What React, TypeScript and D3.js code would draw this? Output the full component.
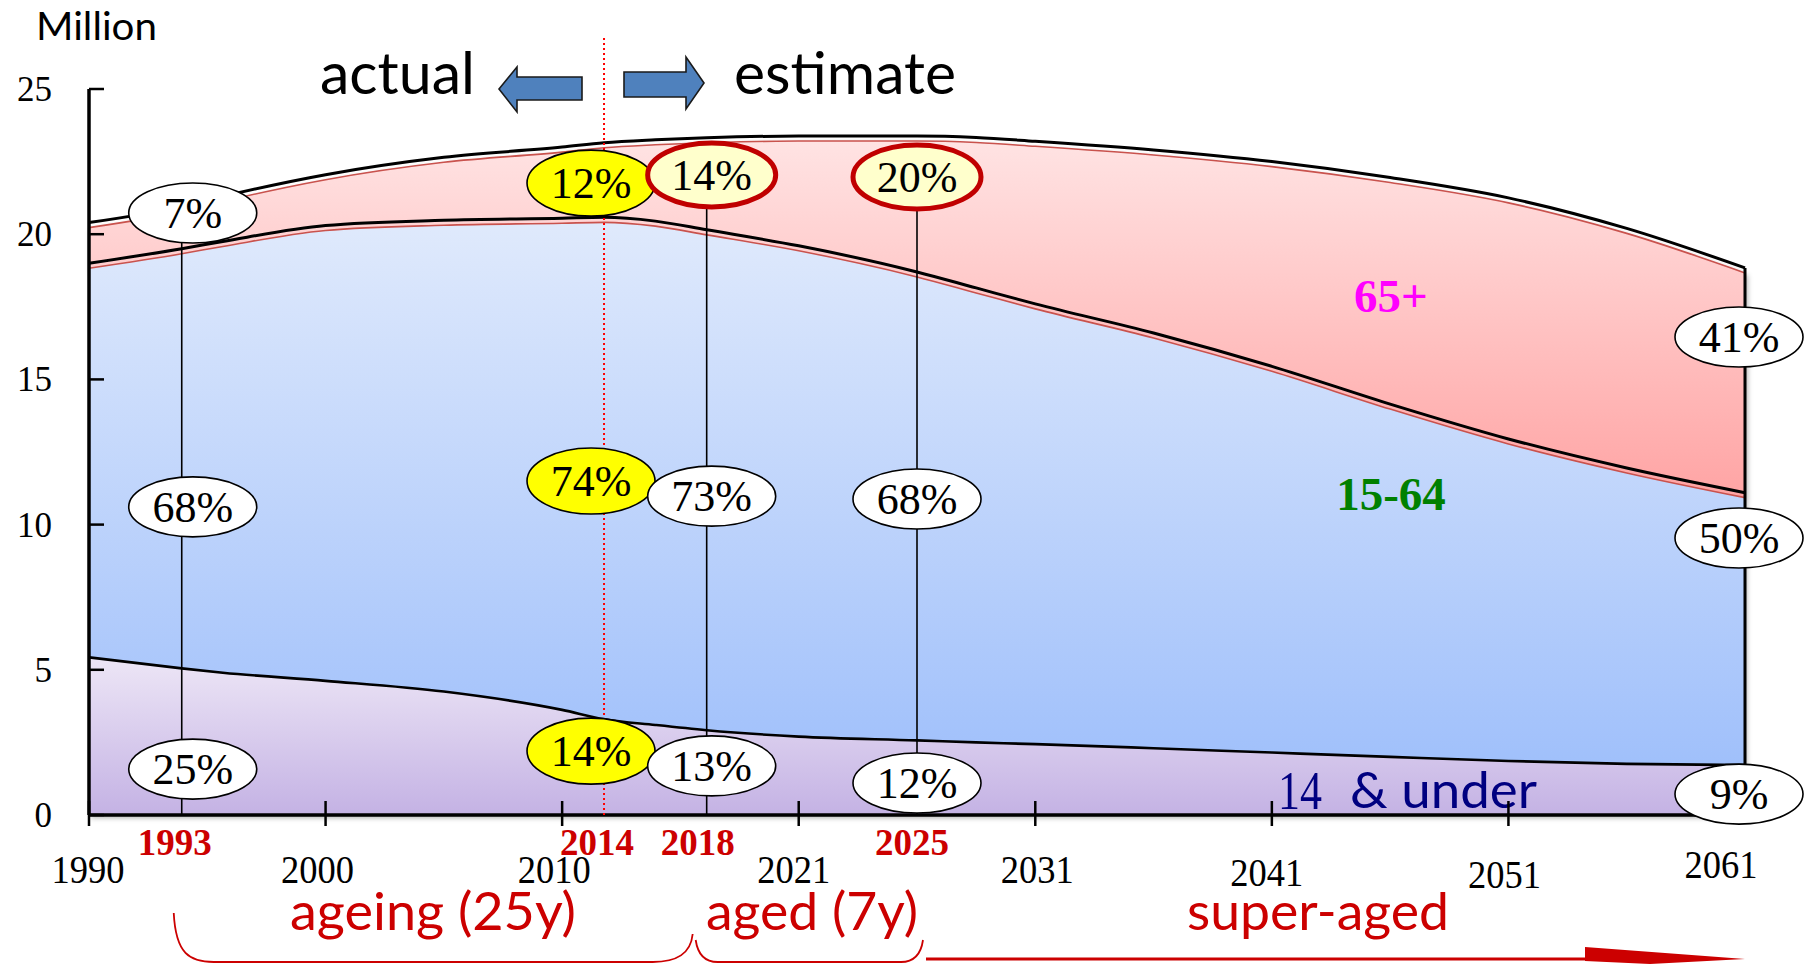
import React from "react";
import * as d3 from "d3";

// ---------------- data ----------------
const YEARS = [1990, 1993, 1995, 2000, 2005, 2010, 2014, 2016, 2018, 2021, 2025, 2028, 2031, 2036, 2041, 2046, 2051, 2056, 2061];
const AGE_0_14 = [5.43, 5.05, 4.9, 4.62, 4.25, 3.62, 3.3, 3.1, 2.92, 2.7, 2.57, 2.5, 2.44, 2.3, 2.15, 2.0, 1.86, 1.76, 1.72];
const AGE_15_64 = [13.57, 14.45, 14.85, 15.68, 16.23, 16.93, 17.28, 17.35, 17.23, 16.9, 16.13, 15.65, 15.16, 14.3, 13.3, 12.15, 11.09, 10.19, 9.38];
const AGE_65_PLUS = [1.4, 1.45, 1.55, 1.75, 2.17, 2.45, 2.57, 2.8, 3.17, 3.78, 4.68, 5.18, 5.6, 6.3, 7.05, 7.8, 8.3, 8.25, 7.74];

const Y_TICKS = [0, 5, 10, 15, 20, 25];
const X_TICK_YEARS = [1990, 2000, 2010, 2021, 2031, 2041, 2051, 2061];
const MILESTONE_YEARS = [1993, 2014, 2018, 2025];

const LABEL_YEARS = [1993, 2014, 2018, 2025, 2061];
const PCT_65_PLUS = ["7%", "12%", "14%", "20%", "41%"];
const PCT_15_64 = ["68%", "74%", "73%", "68%", "50%"];
const PCT_0_14 = ["25%", "14%", "13%", "12%", "9%"];

const ERA_LABELS = ["ageing (25y)", "aged (7y)", "super-aged"];
const SERIES_LABELS = ["65+", "15-64", "14", "& under"];
const Y_UNIT = "Million";
const TOP_LABELS = ["actual", "estimate"];

// ---------------- layout ----------------
const W = 1818;
const H = 964;
const PLOT = { left: 89, right: 1745, top: 89, bottom: 815 };
const KNOT_YEARS = [1990, 1993, 2000, 2010, 2014, 2018, 2021, 2025, 2031, 2041, 2051, 2061];
const KNOT_FRAC = [0, 0.056, 1 / 7, 2 / 7, 0.311, 0.373, 3 / 7, 0.5, 4 / 7, 5 / 7, 6 / 7, 1];
// label placement (value units / px offsets) per LABEL_YEARS entry
const LABEL_Y_TOP = [20.73, 21.76, 22.04, 21.97, 16.46];
const LABEL_Y_MID = [10.61, 11.5, 10.98, 10.88, 9.54];
const LABEL_Y_LOW = [1.58, 2.2, 1.69, 1.1, 0.72];
const LABEL_DX = [11, -13, 5, 0, -6];
const LABEL_KIND = ["plain", "yellow", "plain", "plain", "plain"];
const TOP_HIGHLIGHT = [false, false, true, true, false];
const XTICK_LABEL_DX = [-1, -8, -8, -5, 2, -5, -4, -24];
const XTICK_LABEL_Y = [883, 883, 883, 883, 883, 886, 888, 878];
const MILESTONE_DX = [-7, -7, -9, -5];

const SERIF = "'Liberation Serif', 'Times New Roman', serif";
const SANS = "Lato, 'Open Sans', 'Noto Sans', sans-serif";
const RED = "#cc0000";

export default function App() {
  const x = d3
    .scaleLinear()
    .domain(KNOT_YEARS)
    .range(KNOT_FRAC.map((f) => PLOT.left + f * (PLOT.right - PLOT.left)));
  const y = d3.scaleLinear().domain([0, 25]).range([PLOT.bottom, PLOT.top]);

  const rows = YEARS.map((year, i) => ({ year, a: AGE_0_14[i], b: AGE_15_64[i], c: AGE_65_PLUS[i] }));
  const stacked = d3.stack<any>().keys(["a", "b", "c"])(rows);

  const area = d3
    .area<any>()
    .x((d) => x(d.data.year))
    .y0((d) => y(d[0]))
    .y1((d) => y(d[1]))
    .curve(d3.curveMonotoneX);
  const line = d3
    .line<any>()
    .x((d) => x(d.data.year))
    .y((d) => y(d[1]))
    .curve(d3.curveMonotoneX);

  const lastTotal = stacked[2][stacked[2].length - 1][1];

  const ellipse = (cx: number, cy: number, text: string, kind: string, key: string) => {
    let fill = "#ffffff";
    let stroke = "#000";
    let sw = 1.6;
    let ry = 30;
    if (kind === "yellow") {
      fill = "#ffff00";
      ry = 33;
    } else if (kind === "highlight") {
      fill = "#ffffcc";
      stroke = "#c00000";
      sw = 5;
      ry = 32;
    }
    return (
      <g key={key}>
        <ellipse cx={cx} cy={cy} rx={64} ry={ry} fill={fill} stroke={stroke} strokeWidth={sw} />
        <text x={cx} y={cy + 15} textAnchor="middle" fontFamily={SERIF} fontSize={44} fill="#000">
          {text}
        </text>
      </g>
    );
  };

  const xs1993 = x(MILESTONE_YEARS[0]);
  const xs2018 = x(MILESTONE_YEARS[2]);
  const xs2025 = x(MILESTONE_YEARS[3]);
  const xEnd = x(X_TICK_YEARS[X_TICK_YEARS.length - 1]);

  const brace = (x0: number, y0: number, x1: number, y1: number, yb: number, r: number) =>
    `M${x0},${y0} C${x0 + 2},${yb - 8} ${x0 + r * 0.4},${yb} ${x0 + r},${yb} L${x1 - r},${yb} C${x1 - r * 0.4},${yb} ${x1 - 2},${yb - 8} ${x1},${y1}`;

  return (
    <svg
      width={W}
      height={H}
      viewBox={`0 0 ${W} ${H}`}
      style={{ position: "absolute", left: 0, top: 0, display: "block", background: "#fff" }}
    >
      <defs>
        <linearGradient id="gPink" x1="0" y1="0" x2="0" y2="1">
          <stop offset="0" stopColor="#ffe3e3" />
          <stop offset="1" stopColor="#ffa4a4" />
        </linearGradient>
        <linearGradient id="gBlue" x1="0" y1="0" x2="0" y2="1">
          <stop offset="0" stopColor="#e0eafc" />
          <stop offset="1" stopColor="#a0c0fb" />
        </linearGradient>
        <linearGradient id="gPurple" x1="0" y1="0" x2="0" y2="1">
          <stop offset="0" stopColor="#ede6f6" />
          <stop offset="1" stopColor="#c4b2e4" />
        </linearGradient>
        <filter id="shadow" x="-5%" y="-10%" width="110%" height="125%">
          <feDropShadow dx="2" dy="3" stdDeviation="2.5" floodColor="#000" floodOpacity="0.3" />
        </filter>
      </defs>

      {/* areas */}
      <g filter="url(#shadow)">
        <path d={area(stacked[0]) || ""} fill="url(#gPurple)" />
        <path d={area(stacked[1]) || ""} fill="url(#gBlue)" />
        <path
          d={area(stacked[2]) || ""}
          transform="translate(0,5)"
          fill="url(#gPink)"
          stroke="#c9524e"
          strokeWidth={1.6}
        />
      </g>

      {/* boundary lines */}
      {stacked.map((s, i) => (
        <path key={"ln" + i} d={line(s) || ""} fill="none" stroke="#000" strokeWidth={i === 0 ? 2.6 : 3} />
      ))}
      <line x1={xEnd} x2={xEnd} y1={y(lastTotal)} y2={y(0)} stroke="#000" strokeWidth={3} />

      {/* series labels */}
      <text x={1391} y={312} textAnchor="middle" fontFamily={SERIF} fontWeight="bold" fontSize={47} fill="#ff00ff">
        {SERIES_LABELS[0]}
      </text>
      <text x={1391} y={510} textAnchor="middle" fontFamily={SERIF} fontWeight="bold" fontSize={47} fill="#008000">
        {SERIES_LABELS[1]}
      </text>
      <text x={1278} y={809} fontFamily={SERIF} fontSize={54} fill="#000080" textLength={44} lengthAdjust="spacingAndGlyphs">
        {SERIES_LABELS[2]}
      </text>
      <text x={1350} y={808} fontFamily={SANS} fontSize={50} fill="#000080" textLength={187} lengthAdjust="spacingAndGlyphs">
        {SERIES_LABELS[3]}
      </text>

      {/* y axis */}
      <line x1={PLOT.left} x2={PLOT.left} y1={PLOT.top} y2={PLOT.bottom} stroke="#000" strokeWidth={3.5} />
      {Y_TICKS.map((t) => (
        <g key={"yt" + t}>
          <line x1={PLOT.left} x2={PLOT.left + 15} y1={y(t)} y2={y(t)} stroke="#000" strokeWidth={2.5} />
          <text x={52} y={y(t) + 12} textAnchor="end" fontFamily={SERIF} fontSize={35} fill="#000">
            {t}
          </text>
        </g>
      ))}
      <text x={36} y={40} fontFamily={SANS} fontSize={38} fill="#000" textLength={121} lengthAdjust="spacingAndGlyphs">
        {Y_UNIT}
      </text>

      {/* x axis */}
      <line x1={PLOT.left} x2={PLOT.right} y1={PLOT.bottom} y2={PLOT.bottom} stroke="#000" strokeWidth={3.5} />
      {X_TICK_YEARS.map((yr, i) => (
        <g key={"xt" + yr}>
          {i < X_TICK_YEARS.length - 1 && (
            <line x1={x(yr)} x2={x(yr)} y1={PLOT.bottom - 14} y2={PLOT.bottom + 11} stroke="#000" strokeWidth={2.5} />
          )}
          <text
            x={x(yr) + XTICK_LABEL_DX[i]}
            y={XTICK_LABEL_Y[i]}
            textAnchor="middle"
            fontFamily={SERIF}
            fontSize={39}
            fill="#000"
            textLength={73}
            lengthAdjust="spacingAndGlyphs"
          >
            {yr}
          </text>
        </g>
      ))}
      {MILESTONE_YEARS.map((yr, i) => (
        <text
          key={"ms" + yr}
          x={x(yr) + MILESTONE_DX[i]}
          y={855}
          textAnchor="middle"
          fontFamily={SERIF}
          fontWeight="bold"
          fontSize={37}
          fill={RED}
        >
          {yr}
        </text>
      ))}

      {/* 2014 divider */}
      <line
        x1={x(MILESTONE_YEARS[1])}
        x2={x(MILESTONE_YEARS[1])}
        y1={38}
        y2={PLOT.bottom}
        stroke="#ff0000"
        strokeWidth={2}
        strokeDasharray="2,3"
      />

      {/* connectors */}
      {LABEL_YEARS.map((yr, i) =>
        LABEL_KIND[i] === "plain" && i < LABEL_YEARS.length - 1 ? (
          <line
            key={"cn" + yr}
            x1={x(yr)}
            x2={x(yr)}
            y1={y(LABEL_Y_TOP[i])}
            y2={y(0)}
            stroke="#000"
            strokeWidth={1.6}
          />
        ) : null
      )}

      {/* percentage ellipses */}
      {LABEL_YEARS.map((yr, i) => {
        const cx = x(yr) + LABEL_DX[i];
        const kind = LABEL_KIND[i];
        return (
          <g key={"lab" + yr}>
            {ellipse(cx, y(LABEL_Y_TOP[i]), PCT_65_PLUS[i], TOP_HIGHLIGHT[i] ? "highlight" : kind, "t" + yr)}
            {ellipse(cx, y(LABEL_Y_MID[i]), PCT_15_64[i], kind, "m" + yr)}
            {ellipse(cx, y(LABEL_Y_LOW[i]), PCT_0_14[i], kind, "l" + yr)}
          </g>
        );
      })}

      {/* actual / estimate */}
      <text x={320} y={94} fontFamily={SANS} fontSize={58} fill="#000" textLength={155} lengthAdjust="spacingAndGlyphs">
        {TOP_LABELS[0]}
      </text>
      <polygon
        points="499,89 517,67 517,77 582,77 582,100 517,100 517,112"
        fill="#4f81bd"
        stroke="#1a1a1a"
        strokeWidth={1.6}
      />
      <polygon
        points="704,83 686,57 686,72 624,72 624,97 686,97 686,109"
        fill="#4f81bd"
        stroke="#1a1a1a"
        strokeWidth={1.6}
      />
      <text x={734} y={94} fontFamily={SANS} fontSize={58} fill="#000" textLength={222} lengthAdjust="spacingAndGlyphs">
        {TOP_LABELS[1]}
      </text>

      {/* era annotations */}
      <text x={290} y={930} fontFamily={SANS} fontSize={52} fill={RED} textLength={286} lengthAdjust="spacingAndGlyphs">
        {ERA_LABELS[0]}
      </text>
      <text x={706} y={930} fontFamily={SANS} fontSize={52} fill={RED} textLength={212} lengthAdjust="spacingAndGlyphs">
        {ERA_LABELS[1]}
      </text>
      <text x={1187} y={930} fontFamily={SANS} fontSize={52} fill={RED} textLength={262} lengthAdjust="spacingAndGlyphs">
        {ERA_LABELS[2]}
      </text>
      <path d={brace(xs1993 - 8, 913, xs2018 - 14, 934, 962, 40)} fill="none" stroke={RED} strokeWidth={1.8} />
      <path d={brace(xs2018 - 11, 940, xs2025 + 6, 940, 962, 22)} fill="none" stroke={RED} strokeWidth={1.8} />
      <line x1={xs2025 + 9} x2={xEnd - 60} y1={959} y2={959} stroke={RED} strokeWidth={3} />
      <polygon points={`${xEnd - 160},947 ${xEnd},959 ${xEnd - 95},964 ${xEnd - 160},961`} fill={RED} />
    </svg>
  );
}
